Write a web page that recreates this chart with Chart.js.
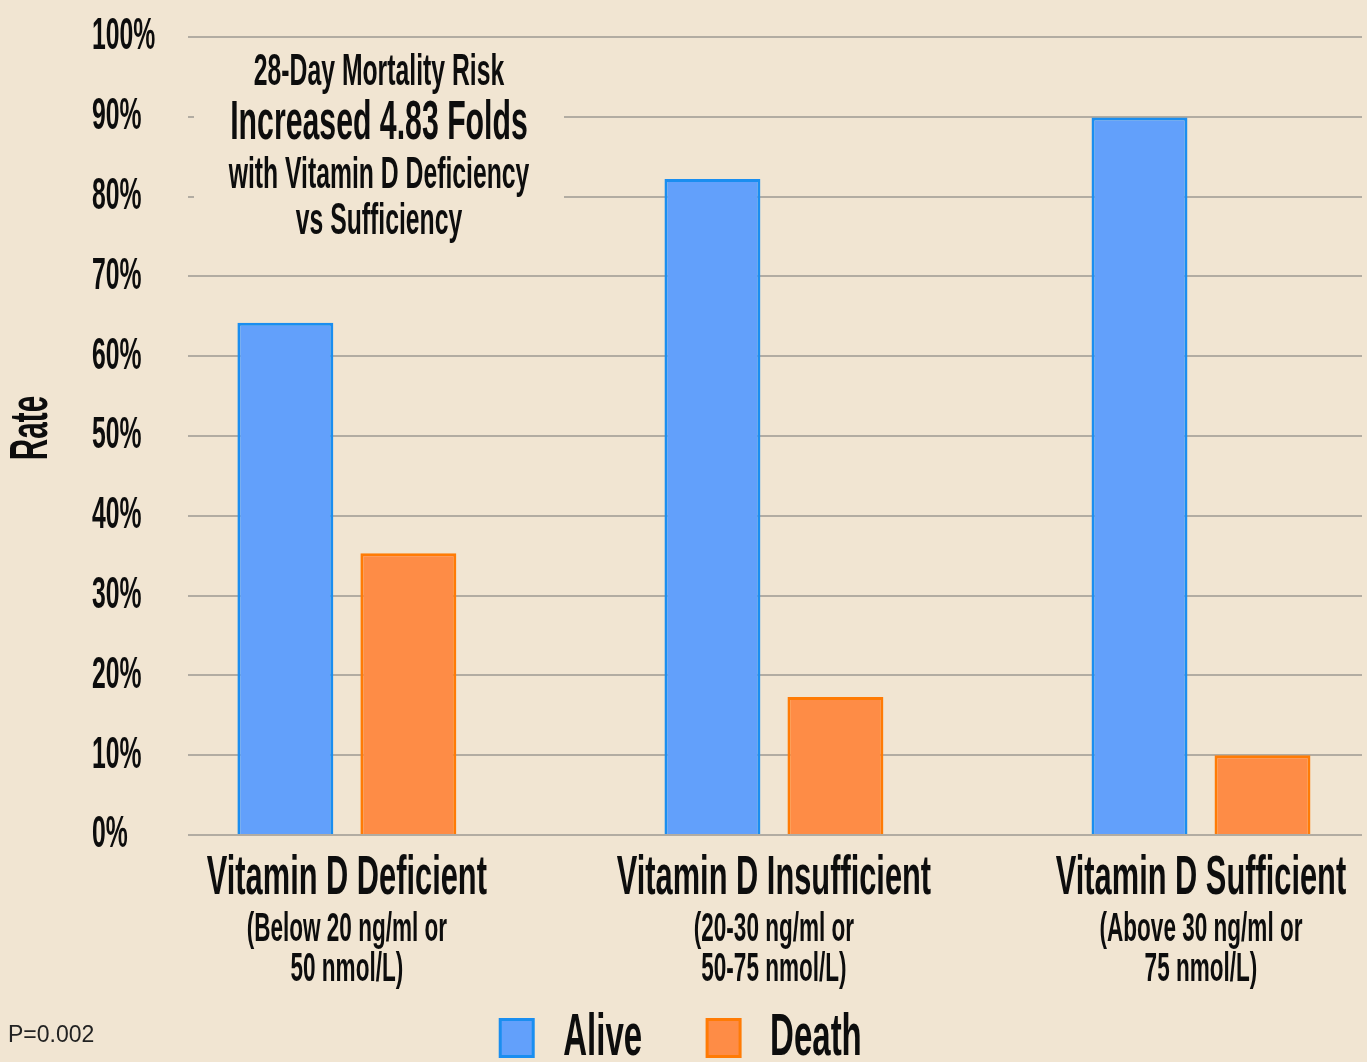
<!DOCTYPE html>
<html>
<head>
<meta charset="utf-8">
<script src="https://cdn.jsdelivr.net/npm/chart.js@4.4.0/dist/chart.umd.min.js"></script>
<style>
  html, body { margin: 0; padding: 0; background: #f1e5d2; overflow: hidden; }
  #wrap { position: relative; width: 1367px; height: 1062px; }
  #pval {
    position: absolute; left: 8px; top: 1021px; color: #222;
    font-family: "Liberation Sans", Arial, sans-serif; font-size: 23px;
  }
</style>
</head>
<body>
<div id="wrap">
  <canvas id="chart" width="1367" height="1062"></canvas>
  <div id="pval">P=0.002</div>
</div>
<script>
// DATA
const categories = ['Vitamin D Deficient', 'Vitamin D Insufficient', 'Vitamin D Sufficient'];
const subLabels = [
  ['(Below 20 ng/ml or', '50 nmol/L)'],
  ['(20-30 ng/ml or', '50-75 nmol/L)'],
  ['(Above 30 ng/ml or', '75 nmol/L)']
];
const alive = [64.2, 82.2, 89.9];
const death = [35.3, 17.3, 10.0];
const yTicks = [0, 10, 20, 30, 40, 50, 60, 70, 80, 90, 100];
const noteLines = ['28-Day Mortality Risk', 'Increased 4.83 Folds', 'with Vitamin D Deficiency', 'vs Sufficiency'];

const FONT = '"Liberation Sans", Arial, sans-serif';
const INK = '#0d0d0d';
const BG = '#f1e5d2';

// no condensed font installed -> squeeze canvas text horizontally
const SQUEEZE = 0.55;
const proto = CanvasRenderingContext2D.prototype;
const rawMeasure = proto.measureText;
const rawFill = proto.fillText;
proto.measureText = function (t) {
  const m = rawMeasure.call(this, t);
  return {
    width: m.width * SQUEEZE,
    actualBoundingBoxAscent: m.actualBoundingBoxAscent,
    actualBoundingBoxDescent: m.actualBoundingBoxDescent,
    actualBoundingBoxLeft: m.actualBoundingBoxLeft * SQUEEZE,
    actualBoundingBoxRight: m.actualBoundingBoxRight * SQUEEZE
  };
};
proto.fillText = function (t, x, y, w) {
  const max = rawMeasure.call(this, t).width * SQUEEZE;
  return rawFill.call(this, t, x, y, w === undefined ? max : Math.min(w, max));
};

const toPoints = arr => arr.map((v, i) => ({ x: i, y: v }));
const catTicks = scale => { scale.ticks = categories.map((c, i) => ({ value: i })); };

// "Rate" axis title + the note box in the upper left
const extras = {
  id: 'extras',
  afterLayout(chart) {
    // left-aligned % labels start at x=92, legend stays centred on the page
    chart.scales.y.left = 92;
  },
  afterDraw(chart) {
    const { ctx, chartArea } = chart;
    ctx.save();
    ctx.fillStyle = INK;
    ctx.textAlign = 'center';
    ctx.textBaseline = 'middle';

    ctx.save();
    ctx.translate(32, (chartArea.top + chartArea.bottom) / 2 - 8);
    ctx.rotate(-Math.PI / 2);
    ctx.font = 'bold 54px ' + FONT;
    ctx.fillText('Rate', 0, 0);
    ctx.restore();

    ctx.fillStyle = BG;
    ctx.fillRect(194, 48, 370, 200);
    ctx.fillStyle = INK;
    const sizes = [45, 55, 45, 45];
    const ys = [73, 124, 176, 222];
    noteLines.forEach((line, i) => {
      ctx.font = 'bold ' + sizes[i] + 'px ' + FONT;
      ctx.fillText(line, 379, ys[i]);
    });
    ctx.restore();
  }
};

new Chart(document.getElementById('chart').getContext('2d'), {
  type: 'bar',
  data: {
    datasets: [
      { label: 'Alive', data: toPoints(alive), backgroundColor: '#62a0fb', borderColor: '#1a8ef0', borderWidth: 3 },
      { label: 'Death', data: toPoints(death), backgroundColor: '#fe8c46', borderColor: '#ff7b05', borderWidth: 3 }
    ]
  },
  options: {
    responsive: false,
    animation: false,
    categoryPercentage: 0.576,
    barPercentage: 0.78,
    layout: { padding: { left: 0, right: 5, top: 37, bottom: -16 } },
    plugins: {
      tooltip: { enabled: false },
      legend: {
        position: 'bottom',
        labels: {
          color: INK, boxWidth: 33, boxHeight: 37, padding: 65,
          font: { family: FONT, size: 60, weight: 'bold', lineHeight: 1 }
        }
      }
    },
    scales: {
      x: {
        type: 'linear', min: -0.372, max: 2.377, offset: false,
        afterBuildTicks: catTicks,
        afterFit: s => { s.height = 72; },
        grid: { display: false, drawTicks: false },
        border: { display: false },
        ticks: {
          autoSkip: false, maxRotation: 0, padding: 16, color: INK,
          font: { family: FONT, size: 56, weight: 'bold', lineHeight: 1 },
          callback: v => categories[v]
        }
      },
      x2: {
        // mirrored so the two lines are not clipped by the short axis box
        type: 'linear', position: 'bottom', min: -0.372, max: 2.377, offset: false,
        afterBuildTicks: catTicks,
        afterFit: s => { s.height = 36; },
        grid: { display: false, drawTicks: false },
        border: { display: false },
        ticks: {
          autoSkip: false, maxRotation: 0, mirror: true, padding: -43, color: INK,
          font: { family: FONT, size: 41, weight: 'bold', lineHeight: '40px' },
          callback: v => subLabels[v]
        }
      },
      y: {
        min: 0, max: 100,
        afterBuildTicks: s => { s.ticks = yTicks.map(v => ({ value: v })); },
        afterFit: s => { s.width = 188; },
        grid: { color: '#b2aca2', lineWidth: 2, drawTicks: false },
        border: { display: false },
        ticks: {
          crossAlign: 'far', padding: 0, color: INK,
          font: { family: FONT, size: 45, weight: 'bold' },
          callback: v => v + '%'
        }
      }
    }
  },
  plugins: [extras]
});
</script>
</body>
</html>
